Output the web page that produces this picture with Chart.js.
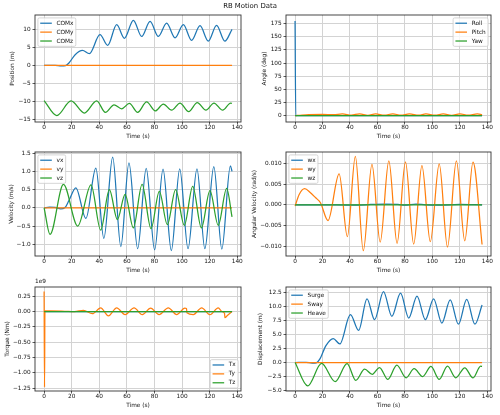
<!doctype html>
<html>
<head>
<meta charset="utf-8">
<title>RB Motion Data</title>
<script src="https://cdn.jsdelivr.net/npm/chart.js"></script>
<style>
  html, body { margin: 0; padding: 0; background: #fff; }
  body { width: 500px; height: 415px; position: relative; overflow: hidden; font-family: "DejaVu Sans", sans-serif; }
  canvas { position: absolute; }
  #title { position: absolute; left: 0; top: 2px; width: 500px; text-align: center; font-size: 6.9px; line-height: 9px; color: #111; z-index: 2; }
</style>
</head>
<body>
<div id="title">RB Motion Data</div>
<canvas id="c1"></canvas>
<canvas id="c2"></canvas>
<canvas id="c3"></canvas>
<canvas id="c4"></canvas>
<canvas id="c5"></canvas>
<canvas id="c6"></canvas>
<script>
// ---- data (time in s) ----
const zeroT = [0, 136.2];
const zeroV = [0, 0];

// position (m)
const comxT = [0, 8, 12.5, 15.5, 18, 22.5, 27.8, 32.8, 40.5, 46.1, 52.6, 58.2, 64.7, 70.7, 76.8, 82.8, 88.8, 94.9, 100.9, 106.9, 113, 119, 125, 131, 136.2];
const comxV = [0, 0.05, -0.15, -0.05, 0.7, 3.0, 4.2, 3.3, 8.6, 5.6, 11.4, 7.6, 12.6, 8.1, 12.3, 8.1, 11.8, 7.7, 11.4, 7.0, 11.1, 6.8, 11.2, 6.8, 10.1];
const comzT = [0, 9.2, 19.5, 29.2, 38.1, 44.4, 50.7, 56.2, 61.8, 67.8, 74.3, 80.6, 86.4, 92.4, 98.5, 104.8, 111, 117.3, 123.1, 129.4, 135.2, 136.2];
const comzV = [-9.8, -14.0, -9.9, -13.3, -9.9, -13.1, -11.0, -12.1, -10.6, -13.1, -10.2, -12.7, -10.8, -12.5, -10.5, -12.9, -10.4, -12.5, -10.5, -12.5, -10.5, -10.6];

// angles (deg)
const rollT = [0, 0.5, 136.2];
const rollV = [180, 0, 0];
const pitchT = [0, 5, 10, 20, 28, 34.5, 41, 47, 53, 58.7, 65, 71.2, 77, 83.3, 90, 95.3, 102, 107.9, 114, 120, 126, 132.8, 136.2];
const pitchV = [0, 1.2, 2.0, 2.3, 2.0, 3.3, 1.0, 3.6, 0.8, 3.5, 0.9, 3.6, 0.9, 3.5, 0.9, 3.4, 0.9, 3.5, 0.8, 3.6, 0.9, 3.5, 2.0];

// velocity (m/s)
const vxT = [0, 4, 8, 12, 15, 18, 23, 30.3, 37.5, 43.3, 49.7, 55.6, 61.5, 67.8, 74, 80.1, 86.2, 92.2, 98.3, 104.3, 110.8, 116.5, 123, 128.8, 135, 136.2];
const vxV = [0, 0.02, 0.01, -0.03, 0, 0.2, 0.55, -0.29, 1.09, -0.84, 1.39, -1.06, 1.23, -1.12, 1.08, -1.15, 1.06, -1.17, 1.07, -1.12, 1.07, -1.12, 1.13, -1.13, 1.15, 1.0];
const vzT = [0, 4.3, 14, 24.4, 34, 41, 47.3, 53.1, 58.7, 64.7, 71, 77.5, 83.5, 89.3, 95.3, 101.6, 107.7, 114, 120.2, 126.2, 132.3, 136.2];
const vzV = [0, -0.73, 0.64, -0.5, 0.63, -0.61, 0.5, -0.32, 0.37, -0.55, 0.64, -0.57, 0.45, -0.46, 0.5, -0.48, 0.59, -0.55, 0.47, -0.48, 0.53, -0.25];

// angular velocity (rad/s)
const wxT = [0, 30, 45, 55, 65, 75, 80, 88, 95, 105, 120, 136.2];
const wxV = [0, 0, -0.0001, 0.0001, 0.0002, 0.0001, -0.0001, 0.0002, 0, -0.0001, 0.0001, 0];
const wyT = [0, 3, 7, 11, 15, 18.5, 24, 32.1, 38.1, 43.9, 49.7, 56, 62, 68.3, 74.3, 80.4, 86.4, 92.4, 98.5, 105, 111, 117.5, 123.6, 129.6, 136.2];
const wyV = [-0.0003, 0.0025, 0.0039, 0.003, 0.0017, 0.0005, -0.0038, 0.0075, -0.0077, 0.0117, -0.0111, 0.0098, -0.009, 0.0106, -0.0093, 0.0104, -0.0095, 0.0095, -0.0089, 0.0099, -0.0102, 0.0106, -0.0087, 0.0103, -0.0096];

// torque (x 1e9 Nm)
const tyT = [0, 0.3, 0.6, 5, 15, 22, 28.5, 35, 41, 46.6, 52.6, 58.7, 65.2, 71.2, 77.2, 83.3, 90, 96.1, 102, 103.2, 103.5, 108.1, 114.2, 120.2, 126.2, 129, 130.8, 131, 133, 136.2];
const tyV = [0.33, -1.234, 0.01, 0.01, 0.005, 0, 0.02, -0.035, 0.06, -0.07, 0.06, -0.05, 0.06, -0.05, 0.055, -0.05, 0.06, -0.05, 0.055, 0.05, -0.02, -0.05, 0.06, -0.05, 0.06, 0.0, -0.03, -0.1, -0.06, 0.0];

// displacement (m)
const surgeT = [0, 8, 12.5, 15.5, 18, 22.5, 27.8, 32.6, 40.3, 46.3, 52.4, 57.9, 64.4, 70.5, 76.8, 82.8, 88.8, 94.9, 100.9, 106.9, 113, 119, 125, 131, 136.2];
const surgeV = [0, 0.03, -0.1, -0.05, 0.6, 3.0, 4.25, 3.3, 8.5, 5.7, 11.3, 7.6, 12.6, 8.2, 12.3, 7.9, 11.8, 7.6, 11.3, 7.0, 11.1, 6.8, 11.2, 6.8, 10.2];
const heaveT = [0, 9.2, 19.3, 29.2, 37.9, 44.2, 50.7, 56.2, 61.5, 67.6, 74.1, 80.9, 86.7, 92.9, 99, 105, 111, 117, 123.6, 129.6, 135.2, 136.2];
const heaveV = [0, -4.14, -0.17, -3.4, -0.2, -3.15, -1.17, -2.1, -0.9, -3.0, -0.47, -2.7, -1.1, -2.5, -0.7, -3.0, -0.64, -2.7, -0.93, -2.74, -0.65, -0.7];

// ticks
const xTicks = [0, 20, 40, 60, 80, 100, 120, 140];
const posTicks = [-15, -10, -5, 0, 5, 10];
const posLabels = ['\u221215', '\u221210', '\u22125', '0', '5', '10'];
const angTicks = [0, 25, 50, 75, 100, 125, 150, 175];
const angLabels = ['0', '25', '50', '75', '100', '125', '150', '175'];
const velTicks = [-1, -0.5, 0, 0.5, 1, 1.5];
const velLabels = ['\u22121.0', '\u22120.5', '0.0', '0.5', '1.0', '1.5'];
const avTicks = [-0.01, -0.005, 0, 0.005, 0.01];
const avLabels = ['\u22120.010', '\u22120.005', '0.000', '0.005', '0.010'];
const tqTicks = [-1.25, -1, -0.75, -0.5, -0.25, 0, 0.25];
const tqLabels = ['\u22121.25', '\u22121.00', '\u22120.75', '\u22120.50', '\u22120.25', '0.00', '0.25'];
const dispTicks = [-5, -2.5, 0, 2.5, 5, 7.5, 10, 12.5];
const dispLabels = ['\u22125.0', '\u22122.5', '0.0', '2.5', '5.0', '7.5', '10.0', '12.5'];

const BLUE = '#1f77b4', ORANGE = '#ff7f0e', GREEN = '#2ca02c';
const FONT = 'DejaVu Sans';
const TEXT = '#111';
const TICK_SIZE = 5.8, LABEL_SIZE = 5.8;

Chart.defaults.font.family = FONT;
Chart.defaults.color = TEXT;

function pts(ts, vs) { return ts.map((t, i) => ({ x: t, y: vs[i] })); }

function series(label, ts, vs, color, order) {
  return {
    label: label, data: pts(ts, vs), borderColor: color, backgroundColor: color,
    borderWidth: 1.25, pointRadius: 0, fill: false, cubicInterpolationMode: 'monotone', order: order
  };
}

// frame + matplotlib-like legend inside the axes
const axesDeco = {
  id: 'axesDeco',
  afterDraw(chart, args, opts) {
    const ctx = chart.ctx, a = chart.chartArea;
    ctx.save();
    ctx.strokeStyle = 'rgba(0,0,0,0.8)';
    ctx.lineWidth = 0.9;
    ctx.strokeRect(a.left, a.top, a.right - a.left, a.bottom - a.top);

    if (opts.offset) {
      ctx.font = TICK_SIZE + 'px "' + FONT + '"';
      ctx.fillStyle = TEXT;
      ctx.textBaseline = 'middle';
      ctx.fillText(opts.offset, a.left, a.top - 5.5);
    }

    // matplotlib legend metrics in font-size units
    const f = 5.8, bp = 0.4 * f, hl = 2 * f, gap = 0.8 * f, ls = 0.5 * f, th = 6, ax = 0.5 * f;
    ctx.font = f + 'px "' + FONT + '"';
    const sets = chart.data.datasets;
    const n = sets.length;
    const tw = Math.max(...sets.map(d => ctx.measureText(d.label).width));
    const w = bp + hl + gap + tw + bp, h = 2 * bp + n * th + (n - 1) * ls;
    const x = opts.corner.indexOf('right') >= 0 ? a.right - ax - w : a.left + ax;
    const y = opts.corner.indexOf('lower') >= 0 ? a.bottom - ax - h : a.top + ax;
    const r = 1.5;
    ctx.beginPath();
    ctx.moveTo(x + r, y);
    ctx.arcTo(x + w, y, x + w, y + h, r);
    ctx.arcTo(x + w, y + h, x, y + h, r);
    ctx.arcTo(x, y + h, x, y, r);
    ctx.arcTo(x, y, x + w, y, r);
    ctx.closePath();
    ctx.fillStyle = 'rgba(255,255,255,0.8)';
    ctx.fill();
    ctx.strokeStyle = '#cccccc';
    ctx.lineWidth = 0.8;
    ctx.stroke();
    ctx.textBaseline = 'middle';
    sets.forEach((d, i) => {
      const cy = y + bp + th / 2 + i * (th + ls);
      ctx.beginPath();
      ctx.moveTo(x + bp, cy);
      ctx.lineTo(x + bp + hl, cy);
      ctx.strokeStyle = d.borderColor;
      ctx.lineWidth = 1.25;
      ctx.stroke();
      ctx.fillStyle = TEXT;
      ctx.fillText(d.label, x + bp + hl + gap, cy);
    });
    ctx.restore();
  }
};

function makePanel(p) {
  const cv = document.getElementById(p.id);
  const [cl, ct, cw, ch] = p.canvas;
  const [al, at, ar, ab] = p.area;
  cv.width = cw; cv.height = ch;
  cv.style.left = cl + 'px'; cv.style.top = ct + 'px';
  cv.style.width = cw + 'px'; cv.style.height = ch + 'px';
  const lh = LABEL_SIZE * 1.2;
  const xH = 14.5 + lh / 2;
  const padL = p.titleX - cl - lh / 2;
  const yW = al - cl - padL;
  const padding = { left: padL, top: at - ct, right: cl + cw - ar, bottom: ct + ch - ab - xH };

  new Chart(cv, {
    type: 'line',
    data: { datasets: p.datasets },
    plugins: [axesDeco],
    options: {
      responsive: false,
      animation: false,
      events: [],
      layout: { padding: padding },
      plugins: {
        legend: { display: false },
        tooltip: { enabled: false },
        axesDeco: { corner: p.corner, offset: p.offset || '' }
      },
      scales: {
        x: {
          type: 'linear', min: -6.6, max: 142.7,
          afterBuildTicks: s => { s.ticks = xTicks.map(v => ({ value: v })); },
          afterFit: s => { s.height = xH; },
          ticks: { autoSkip: false, maxRotation: 0, padding: 0, font: { size: TICK_SIZE }, color: TEXT,
                   callback: v => String(v) },
          grid: { color: '#d3d3d3', lineWidth: 1, tickLength: 2.5, tickColor: '#333', tickWidth: 0.8 },
          border: { display: false },
          title: { display: true, text: 'Time (s)', font: { size: LABEL_SIZE }, color: TEXT, padding: 0 }
        },
        y: {
          type: 'linear', min: p.yMin, max: p.yMax,
          afterBuildTicks: s => { s.ticks = p.yTicks.map(v => ({ value: v })); },
          afterFit: s => { s.width = yW; },
          ticks: { autoSkip: false, padding: 1.8, font: { size: TICK_SIZE }, color: TEXT,
                   callback: (v, i) => p.yLabels[i] },
          grid: { color: '#d3d3d3', lineWidth: 1, tickLength: 2.5, tickColor: '#333', tickWidth: 0.8 },
          border: { display: false },
          title: { display: true, text: p.yTitle, font: { size: LABEL_SIZE }, color: TEXT, padding: 0 }
        }
      }
    }
  });
}

const panels = [
  { id: 'c1', canvas: [0, 6, 250, 135], area: [35, 15, 241, 122], titleX: 12,
    yTitle: 'Position (m)', yMin: -15.8, yMax: 14.1, yTicks: posTicks, yLabels: posLabels, corner: 'upper left',
    datasets: [series('COMx', comxT, comxV, BLUE, 3), series('COMy', zeroT, zeroV, ORANGE, 2), series('COMz', comzT, comzV, GREEN, 1)] },
  { id: 'c2', canvas: [250, 6, 250, 135], area: [286, 15, 491, 122], titleX: 264,
    yTitle: 'Angle (deg)', yMin: -12, yMax: 191.5, yTicks: angTicks, yLabels: angLabels, corner: 'upper right',
    datasets: [series('Roll', rollT, rollV, BLUE, 3), series('Pitch', pitchT, pitchV, ORANGE, 2), series('Yaw', zeroT, zeroV, GREEN, 1)] },
  { id: 'c3', canvas: [0, 143, 250, 132], area: [35, 152, 241, 256], titleX: 11,
    yTitle: 'Velocity (m/s)', yMin: -1.32, yMax: 1.53, yTicks: velTicks, yLabels: velLabels, corner: 'upper left',
    datasets: [series('vx', vxT, vxV, BLUE, 3), series('vy', zeroT, zeroV, ORANGE, 2), series('vz', vzT, vzV, GREEN, 1)] },
  { id: 'c4', canvas: [250, 143, 250, 132], area: [286, 152, 491, 256], titleX: 254,
    yTitle: 'Angular Velocity (rad/s)', yMin: -0.01237, yMax: 0.01277, yTicks: avTicks, yLabels: avLabels, corner: 'upper left',
    datasets: [series('wx', wxT, wxV, BLUE, 3), series('wy', wyT, wyV, ORANGE, 2), series('wz', zeroT, zeroV, GREEN, 1)] },
  { id: 'c5', canvas: [0, 276, 250, 134], area: [35, 287, 241, 391], titleX: 7,
    yTitle: 'Torque (Nm)', yMin: -1.299, yMax: 0.402, yTicks: tqTicks, yLabels: tqLabels, corner: 'lower right', offset: '1e9',
    datasets: [series('Tx', zeroT, zeroV, BLUE, 3), series('Ty', tyT, tyV, ORANGE, 2), series('Tz', zeroT, zeroV, GREEN, 1)] },
  { id: 'c6', canvas: [250, 276, 250, 134], area: [286, 287, 491, 391], titleX: 260,
    yTitle: 'Displacement (m)', yMin: -5.05, yMax: 13.4, yTicks: dispTicks, yLabels: dispLabels, corner: 'upper left',
    datasets: [series('Surge', surgeT, surgeV, BLUE, 3), series('Sway', zeroT, zeroV, ORANGE, 2), series('Heave', heaveT, heaveV, GREEN, 1)] }
];

panels.forEach(makePanel);
</script>
</body>
</html>
